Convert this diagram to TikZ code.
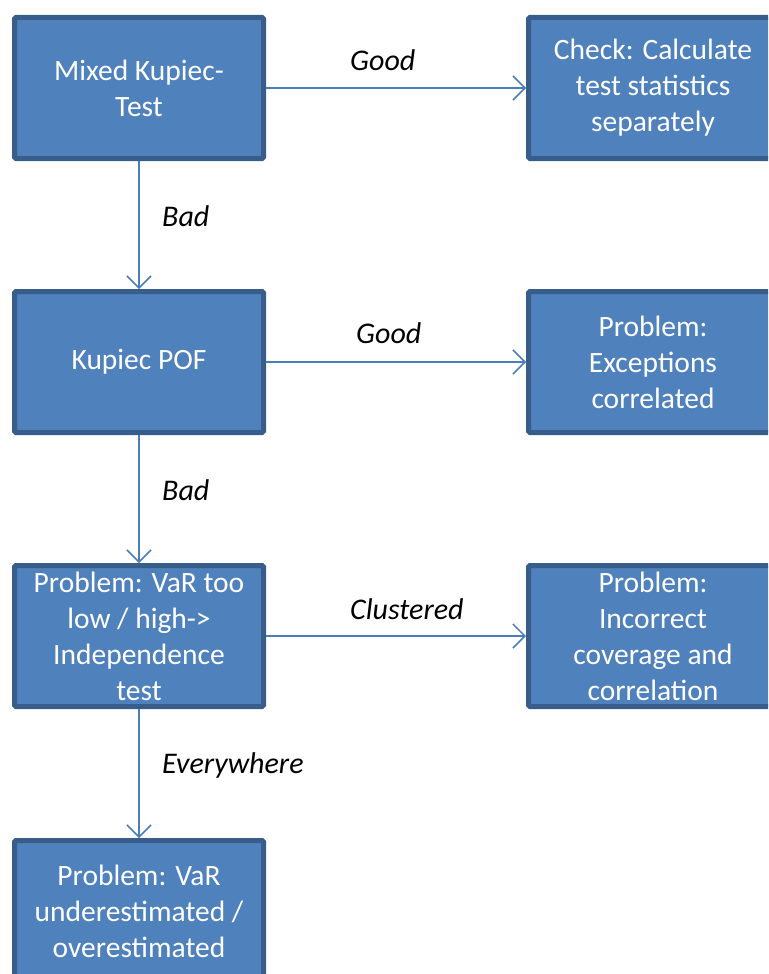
\documentclass[tikz,border=0pt]{standalone}
\usepackage{fontspec}
\setmainfont{Carlito}
\usetikzlibrary{arrows.meta}
\definecolor{boxfill}{HTML}{4F81BD}
\definecolor{boxline}{HTML}{385D8A}
\definecolor{arrowline}{HTML}{4A7EBB}
\begin{document}
\begin{tikzpicture}[x=1pt,y=-1pt,
    box/.style={draw=boxline,fill=boxfill,line width=5pt,rounded corners=1.5pt,
      minimum width=249pt,minimum height=141pt,inner sep=0pt,
      align=center,text=white,font=\fontsize{29.5}{36}\selectfont},
    lbl/.style={anchor=west,inner sep=0pt,text=black,
      font=\fontsize{30}{36}\selectfont\itshape},
    flow/.style={draw=arrowline,line width=1.5pt,
      -{Straight Barb[length=12pt,width=24pt,line width=1.5pt]}}]
  \useasboundingbox (0,0) rectangle (768,974);
  \clip (0,0) rectangle (768,974);
  \draw
    (139,88) node[box] (mixed){Mixed Kupiec-\\Test}
    (653,88) node[box] (check){Check: Calculate\\test statistics\\separately}
    (139,362) node[box] (pof){Kupiec POF}
    (653,362) node[box] (corr){Problem:\\Exceptions\\correlated}
    (139,636) node[box] (indep){Problem: VaR too\\low / high->\\Independence\\test}
    (653,636) node[box] (both){Problem:\\Incorrect\\coverage and\\correlation}
    (139,911) node[box] (level){Problem: VaR\\underestimated /\\overestimated};
  \draw
    (350,60) node[lbl] (good1){Good}
    (356,333) node[lbl] (good2){Good}
    (350,609) node[lbl] (clust){Clustered}
    (162,216) node[lbl] (bad1){Bad}
    (162,490) node[lbl] (bad2){Bad}
    (162,765) node[lbl] (every){Everywhere};
  \begin{scope}[flow]
    \draw (mixed) to (check);
    \draw (mixed) to (pof);
    \draw (pof) to (corr);
    \draw (pof) to (indep);
    \draw (indep) to (both);
    \draw (indep) to (level);
  \end{scope}
\end{tikzpicture}
\end{document}
